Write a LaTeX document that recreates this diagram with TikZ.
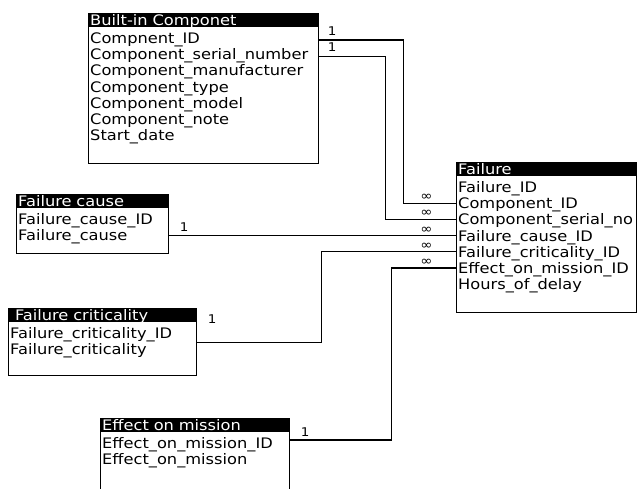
\documentclass[tikz,border=0pt]{standalone}
\usepackage{fontspec}
\setmainfont{DejaVu Sans}[FakeStretch=1.12]
\usetikzlibrary{positioning,calc}

\begin{document}
\begin{tikzpicture}[x=1pt,y=-1pt,font=\fontsize{14.5}{16}\selectfont,
   tbl/.style={draw,line width=1.2pt,anchor=north west,inner sep=0pt},
   hdr/.style={fill=black,text=white,anchor=north west,inner xsep=2pt,inner ysep=0pt,
               text height=12pt,text depth=2pt,align=left},
   row/.style={anchor=north west,inner xsep=2pt,inner ysep=0pt,
               text height=13.3pt,text depth=2.5pt},
   link/.style={line width=1.1pt},
   one/.style={font=\fontsize{12}{12}\selectfont,inner sep=0pt},
   many/.style={font=\fontsize{13}{13}\selectfont,inner sep=0pt}]
  \useasboundingbox (0,0) rectangle (638,488);

  \node[tbl,minimum width=230pt,minimum height=150pt] (bic) at (88,13) {};
  \node[hdr,text width=226pt] (bich) at (bic.north west) {Built-in Componet};
  \node[row] (b1) at ([yshift=-2.5pt]bich.south west) {Compnent\_ID};
  \node[row] (b2) at (b1.south west) {Component\_serial\_number};
  \node[row] (b3) at (b2.south west) {Component\_manufacturer};
  \node[row] (b4) at (b3.south west) {Component\_type};
  \node[row] (b5) at (b4.south west) {Component\_model};
  \node[row] (b6) at (b5.south west) {Component\_note};
  \node[row] (b7) at (b6.south west) {Start\_date};

  \node[tbl,minimum width=152pt,minimum height=59pt] (cause) at (16,194) {};
  \node[hdr,text width=148pt] (causeh) at (cause.north west) {Failure cause};
  \node[row] (c1) at ([yshift=-2.5pt]causeh.south west) {Failure\_cause\_ID};
  \node[row] (c2) at (c1.south west) {Failure\_cause};

  \node[tbl,minimum width=188pt,minimum height=67pt] (crit) at (8,308) {};
  \node[hdr,text width=184pt] (crith) at (crit.north west) {\ Failure criticality};
  \node[row] (r1) at ([yshift=-2.5pt]crith.south west) {Failure\_criticality\_ID};
  \node[row] (r2) at (r1.south west) {Failure\_criticality};

  \node[tbl,minimum width=189pt,minimum height=80pt] (eff) at (100,418) {};
  \node[hdr,text width=185pt] (effh) at (eff.north west) {Effect on mission};
  \node[row] (e1) at ([yshift=-2.5pt]effh.south west) {Effect\_on\_mission\_ID};
  \node[row] (e2) at (e1.south west) {Effect\_on\_mission};

  \node[tbl,minimum width=180pt,minimum height=150pt] (fail) at (456,162) {};
  \node[hdr,text width=176pt] (failh) at (fail.north west) {Failure};
  \node[row] (f1) at ([yshift=-2.5pt]failh.south west) {Failure\_ID};
  \node[row] (f2) at (f1.south west) {Component\_ID};
  \node[row] (f3) at (f2.south west) {Component\_serial\_no};
  \node[row] (f4) at (f3.south west) {Failure\_cause\_ID};
  \node[row] (f5) at (f4.south west) {Failure\_criticality\_ID};
  \node[row] (f6) at (f5.south west) {Effect\_on\_mission\_ID};
  \node[row] (f7) at (f6.south west) {Hours\_of\_delay};

  \draw[link] ([yshift=-2pt]bic.east |- b1) -- ++(84,0)
       node[one,pos=0,above right=4pt and 8pt]{1}
       |- (fail.west |- f2) node[many,pos=1,above left=2pt and 23pt]{∞};
  \draw[link] ([yshift=-2pt]bic.east |- b2) -- ++(66,0)
       node[one,pos=0,above right=4pt and 8pt]{1}
       |- (fail.west |- f3) node[many,pos=1,above left=2pt and 23pt]{∞};
  \draw[link] (cause.east |- f4) -- (fail.west |- f4)
       node[one,pos=0,above right=4pt and 10pt]{1}
       node[many,pos=1,above left=2pt and 23pt]{∞};
  \draw[link] ($(crit.east |- r1)!.6!(crit.east |- r2)$) -- ++(124,0)
       node[one,pos=0,above right=19pt and 10pt]{1}
       |- (fail.west |- f5) node[many,pos=1,above left=2pt and 23pt]{∞};
  \draw[link] ([yshift=3pt]eff.east |- e1) -- ++(101,0)
       node[one,pos=0,above right=3pt and 10pt]{1}
       |- (fail.west |- f6) node[many,pos=1,above left=2pt and 23pt]{∞};
\end{tikzpicture}
\end{document}
